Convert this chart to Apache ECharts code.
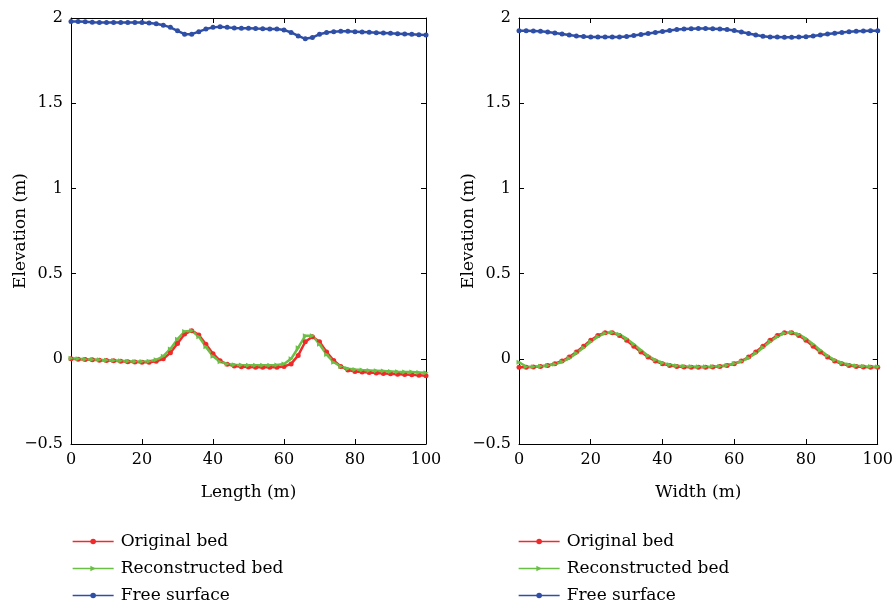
<!DOCTYPE html>
<html>
<head>
<meta charset="utf-8">
<script src="https://cdn.jsdelivr.net/npm/echarts@6/dist/echarts.min.js"></script>
<style>
  html, body { margin: 0; padding: 0; background: #fff; }
  #main { width: 896px; height: 606px; }
</style>
</head>
<body>
<div id="main"></div>
<script>
// x positions (m), every 2 m
var xs = [0, 2, 4, 6, 8, 10, 12, 14, 16, 18, 20, 22, 24, 26, 28, 30, 32, 34, 36, 38, 40,
  42, 44, 46, 48, 50, 52, 54, 56, 58, 60, 62, 64, 66, 68, 70, 72, 74, 76, 78, 80,
  82, 84, 86, 88, 90, 92, 94, 96, 98, 100];

// left panel (along length)
var lenOriginal = [0.0, -0.002, -0.004, -0.006, -0.008, -0.01, -0.012, -0.014, -0.017, -0.019, -0.02,
  -0.02, -0.015, 0.0, 0.035, 0.09, 0.145, 0.165, 0.14, 0.085, 0.03,
  -0.012, -0.032, -0.042, -0.046, -0.048, -0.05, -0.05, -0.05, -0.05, -0.045,
  -0.03, 0.02, 0.1, 0.13, 0.1, 0.04, -0.01, -0.045, -0.066, -0.074,
  -0.078, -0.081, -0.084, -0.086, -0.088, -0.09, -0.092, -0.094, -0.097, -0.1];
var lenRecon = [0.003, 0.0, -0.003, -0.004, -0.006, -0.008, -0.01, -0.012, -0.014, -0.016, -0.016,
  -0.014, -0.006, 0.015, 0.058, 0.115, 0.16, 0.165, 0.13, 0.07, 0.015,
  -0.018, -0.03, -0.035, -0.037, -0.038, -0.038, -0.038, -0.038, -0.036, -0.03,
  0.0, 0.065, 0.135, 0.135, 0.085, 0.025, -0.02, -0.045, -0.058, -0.063,
  -0.066, -0.068, -0.07, -0.072, -0.074, -0.076, -0.077, -0.078, -0.08, -0.082];
var lenSurface = [1.98, 1.98, 1.978, 1.975, 1.974, 1.974, 1.974, 1.974, 1.974, 1.974, 1.973,
  1.97, 1.966, 1.958, 1.945, 1.925, 1.905, 1.905, 1.92, 1.935, 1.945,
  1.948, 1.945, 1.942, 1.94, 1.94, 1.938, 1.937, 1.936, 1.935, 1.93,
  1.915, 1.895, 1.878, 1.885, 1.905, 1.915, 1.92, 1.922, 1.922, 1.92,
  1.918, 1.916, 1.914, 1.912, 1.91, 1.908, 1.906, 1.904, 1.902, 1.9];

// right panel (across width)
var widOriginal = [-0.05, -0.049, -0.048, -0.045, -0.039, -0.029, -0.013, 0.01, 0.04, 0.074, 0.109,
  0.137, 0.153, 0.153, 0.137, 0.109, 0.074, 0.04, 0.01, -0.013, -0.029,
  -0.039, -0.045, -0.048, -0.049, -0.05, -0.049, -0.048, -0.045, -0.039, -0.029,
  -0.013, 0.01, 0.04, 0.074, 0.109, 0.137, 0.153, 0.153, 0.137, 0.109,
  0.074, 0.04, 0.01, -0.013, -0.029, -0.039, -0.045, -0.048, -0.049, -0.05];
var widRecon = [-0.02, -0.046, -0.046, -0.044, -0.04, -0.032, -0.018, 0.003, 0.032, 0.065, 0.1,
  0.13, 0.15, 0.155, 0.143, 0.118, 0.085, 0.05, 0.018, -0.007, -0.024,
  -0.035, -0.041, -0.044, -0.045, -0.046, -0.046, -0.045, -0.043, -0.038, -0.028,
  -0.015, 0.005, 0.033, 0.066, 0.1, 0.13, 0.15, 0.155, 0.143, 0.118,
  0.085, 0.05, 0.018, -0.007, -0.024, -0.035, -0.041, -0.044, -0.045, -0.046];
var widSurface = [1.925, 1.925, 1.924, 1.922, 1.918, 1.912, 1.906, 1.9, 1.895, 1.891, 1.889,
  1.888, 1.888, 1.888, 1.889, 1.892, 1.897, 1.903, 1.909, 1.915, 1.921,
  1.927, 1.932, 1.935, 1.937, 1.938, 1.938, 1.937, 1.935, 1.932, 1.926,
  1.918, 1.909, 1.9, 1.893, 1.889, 1.888, 1.887, 1.887, 1.888, 1.89,
  1.894, 1.9, 1.906, 1.911, 1.915, 1.919, 1.922, 1.924, 1.925, 1.925];

var legendNames = ['Original bed', 'Reconstructed bed', 'Free surface'];

function pairs(ys) {
  return xs.map(function (x, i) { return [x, ys[i]]; });
}

var serif = 'DejaVu Serif';
var red = '#f02a2a', green = '#6abf45', blue = '#2f4fa6';
var legendColors = [red, green, blue];

function xAxisPair(grid, name) {
  return [
    {
      type: 'value', gridIndex: grid, min: 0, max: 100, interval: 20,
      name: name, nameLocation: 'middle', nameGap: 40, nameMoveOverlap: false,
      nameTextStyle: { fontFamily: serif, fontSize: 17, color: '#000' },
      axisLine: { onZero: false, lineStyle: { color: '#000' } },
      axisTick: { inside: true, length: 5, lineStyle: { color: '#000' } },
      axisLabel: { fontFamily: serif, fontSize: 16, color: '#000', margin: 8 },
      splitLine: { show: false }
    },
    {
      type: 'value', gridIndex: grid, position: 'top', min: 0, max: 100, interval: 20,
      axisLine: { onZero: false, lineStyle: { color: '#000' } },
      axisTick: { inside: true, length: 5, lineStyle: { color: '#000' } },
      axisLabel: { show: false },
      splitLine: { show: false }
    }
  ];
}

function yAxisPair(grid) {
  return [
    {
      type: 'value', gridIndex: grid, min: -0.5, max: 2, interval: 0.5,
      name: 'Elevation (m)', nameLocation: 'middle', nameGap: 42, nameMoveOverlap: false,
      nameTextStyle: { fontFamily: serif, fontSize: 17, color: '#000' },
      axisLine: { show: true, onZero: false, lineStyle: { color: '#000' } },
      axisTick: { show: true, inside: true, length: 5, lineStyle: { color: '#000' } },
      axisLabel: {
        fontFamily: serif, fontSize: 16, color: '#000', margin: 8,
        formatter: function (v) { return String(v).replace('-', '\u2212'); }
      },
      splitLine: { show: false }
    },
    {
      type: 'value', gridIndex: grid, position: 'right', min: -0.5, max: 2, interval: 0.5,
      axisLine: { show: true, onZero: false, lineStyle: { color: '#000' } },
      axisTick: { show: true, inside: true, length: 5, lineStyle: { color: '#000' } },
      axisLabel: { show: false },
      splitLine: { show: false }
    }
  ];
}

function lineSeries(name, color, symbol, ys, xi, yi) {
  return {
    name: name, type: 'line', xAxisIndex: xi, yAxisIndex: yi,
    data: pairs(ys),
    symbol: symbol, symbolSize: 5, symbolRotate: symbol === 'triangle' ? -90 : 0,
    showAllSymbol: true,
    lineStyle: { color: color, width: 2.5 },
    itemStyle: { color: color },
    animation: false
  };
}

function legendAt(left) {
  return {
    data: legendNames.map(function (n, i) {
      return { name: n, lineStyle: { color: legendColors[i], width: 1.3 } };
    }),
    orient: 'vertical', left: left, top: 533, height: 90,
    padding: 0,
    itemWidth: 41, itemHeight: 7, itemGap: 10,
    textStyle: { fontFamily: serif, fontSize: 17, lineHeight: 15, color: '#000', padding: [0, 0, 0, 2] },
    selectedMode: false
  };
}

var chart = echarts.init(document.getElementById('main'));
var option = {
  backgroundColor: '#fff',
  legend: [legendAt(72), legendAt(518)],
  grid: [
    { left: 71, right: 470, top: 18, bottom: 162 },
    { left: 519, right: 17, top: 18, bottom: 162 }
  ],
  xAxis: xAxisPair(0, 'Length (m)').concat(xAxisPair(1, 'Width (m)')),
  yAxis: yAxisPair(0).concat(yAxisPair(1)),
  series: [
    lineSeries('Original bed', red, 'circle', lenOriginal, 0, 0),
    lineSeries('Reconstructed bed', green, 'triangle', lenRecon, 0, 0),
    lineSeries('Free surface', blue, 'circle', lenSurface, 0, 0),
    lineSeries('Original bed', red, 'circle', widOriginal, 2, 2),
    lineSeries('Reconstructed bed', green, 'triangle', widRecon, 2, 2),
    lineSeries('Free surface', blue, 'circle', widSurface, 2, 2)
  ]
};
chart.setOption(option);
</script>
</body>
</html>
